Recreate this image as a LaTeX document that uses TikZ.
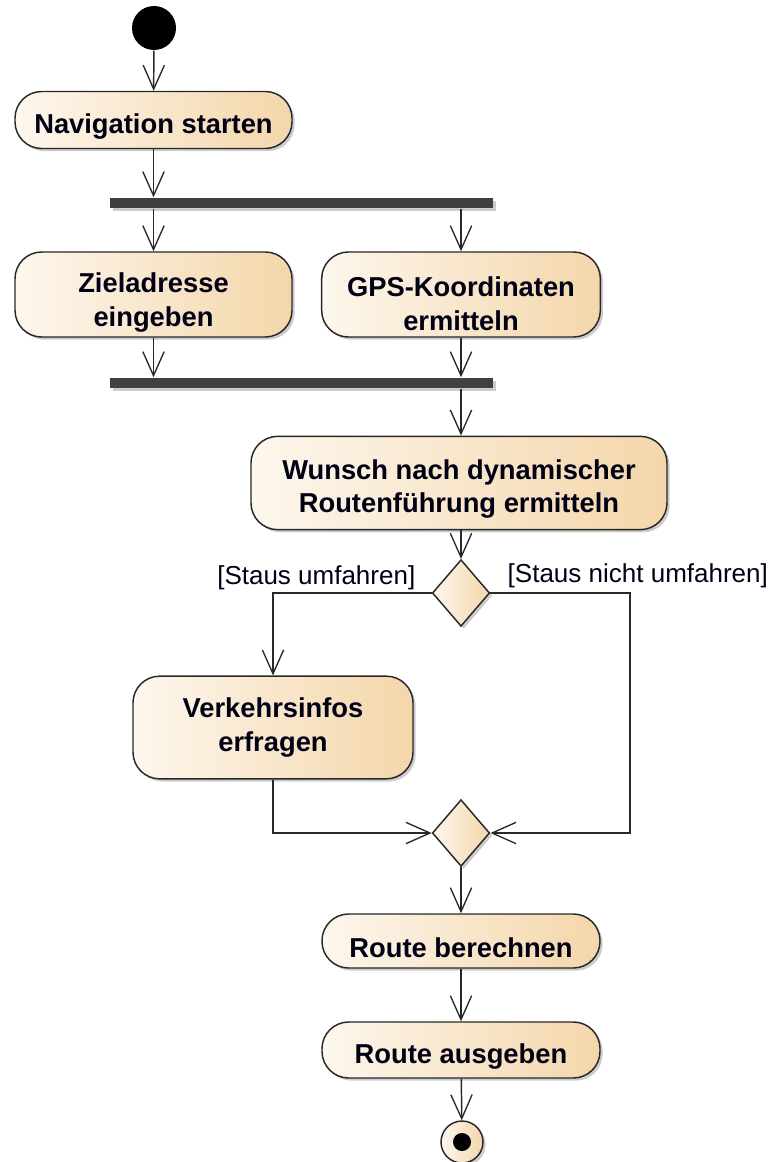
\documentclass[tikz,border=0pt]{standalone}
\usepackage{fontspec}
\setmainfont{Liberation Sans}
\usetikzlibrary{shapes.geometric,shadows,arrows.meta}
\tikzset{>={Straight Barb[length=18pt,width=16pt,line width=1pt]}}
\definecolor{actL}{RGB}{253,247,238}
\definecolor{actR}{RGB}{244,214,170}
\definecolor{edge}{RGB}{40,40,40}
\definecolor{barc}{RGB}{64,64,64}
\newcommand\lift[1]{\rule{0pt}{#1}}

\begin{document}
\begin{tikzpicture}[x=0.75pt, y=-0.75pt, line width=1.1pt, draw=edge,
    shade/.style={left color=actL, right color=actR,
      drop shadow={shadow xshift=2pt, shadow yshift=-2pt, opacity=.2, fill=black}},
    action/.style={shade, draw=edge, rounded corners=20pt, align=center, inner sep=0pt,
      font=\bfseries\fontsize{20.5}{25}\selectfont, text=black!92!blue},
    bar/.style={fill=barc, minimum width=287pt, minimum height=7.5pt, inner sep=0pt,
      drop shadow={shadow xshift=2pt, shadow yshift=-2pt, opacity=.2, fill=black}},
    decision/.style={diamond, shade, draw=edge, inner sep=0pt, minimum width=43pt, minimum height=50pt},
    guard/.style={font=\fontsize{19.5}{24}\selectfont, text=black!92!blue, inner sep=0pt}]
  \useasboundingbox (0,0) rectangle (782,1162);
  % start and fork
  \node[circle, fill=black, minimum size=33pt, inner sep=0pt] (start) at (154, 28) {};
  \node[action, minimum width=207.75pt, minimum height=42.75pt] (nav) at (153.5, 120) {\lift{24.5pt}Navigation starten};
  \node[bar] (fork) at (301.5, 203) {};
  \node[action, minimum width=207.75pt, minimum height=63.75pt] (ziel) at (153.5, 294.5) {\lift{27pt}Zieladresse\\eingeben};
  \node[action, minimum width=209pt, minimum height=63.75pt] (gps) at (461, 294.5) {\lift{28.5pt}GPS-Koordinaten\\ermitteln};
  \node[bar] (join) at (301.5, 383) {};
  \node[action, minimum width=312pt, minimum height=70pt] (wunsch) at (459, 483) {\lift{24pt}Wunsch nach dynamischer\\Routenführung ermitteln};
  % branch
  \node[decision] (dec) at (461, 593) {};
  \node[guard, anchor=east] (g1) at (416, 578) {[Staus umfahren]};
  \node[guard, anchor=west] (g2) at (507, 576) {[Staus nicht umfahren]};
  \node[action, minimum width=210pt, minimum height=77pt] (verk) at (273, 727.5) {Verkehrsinfos\\erfragen};
  \node[decision] (merge) at (461, 833) {};
  \coordinate (rc) at (630, 833);
  \node[action, minimum width=208.5pt, minimum height=40.5pt] (calc) at (461, 941) {\lift{24.5pt}Route berechnen};
  \node[action, minimum width=208.5pt, minimum height=42pt] (outp) at (461, 1050) {\lift{24.5pt}Route ausgeben};
  \node[circle, shade, draw=edge, minimum size=31.5pt, inner sep=0pt] (fin) at (462, 1142) {};
  \node[circle, fill=black, minimum size=13.5pt, inner sep=0pt] (fdot) at (fin) {};
  % flows
  \draw[->] (start) -- (nav);
  \draw[->] (nav) -- (nav |- fork.north);
  \draw[->] (ziel |- fork.south) -- (ziel);
  \draw[->] (gps |- fork.south) -- (gps);
  \draw[->] (ziel) -- (ziel |- join.north);
  \draw[->] (gps) -- (gps |- join.north);
  \draw[->] (gps |- join.south) -- (gps |- wunsch.north);
  \draw[->] (gps |- wunsch.south) -- (dec);
  \draw[->] (dec.west) -| (verk);
  \draw[->] (dec.east) -| (rc) -- (merge.east);
  \draw[->] (verk) |- (merge.west);
  \draw[->] (merge) -- (calc);
  \draw[->] (calc) -- (outp);
  \draw[->] (outp) -- (fin);
\end{tikzpicture}
\end{document}
